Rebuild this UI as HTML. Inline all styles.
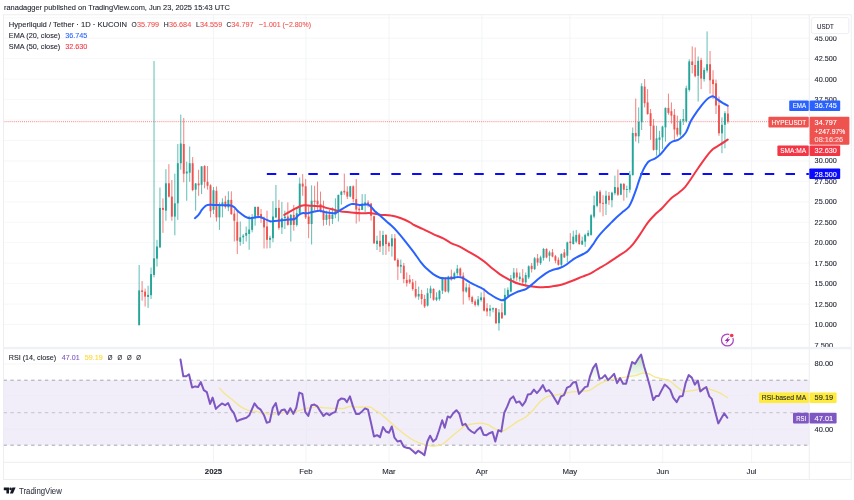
<!DOCTYPE html>
<html><head><meta charset="utf-8"><title>HYPEUSDT chart</title>
<style>html,body{margin:0;padding:0;background:#fff;}body{width:854px;height:500px;overflow:hidden;font-family:"Liberation Sans",sans-serif;}svg{display:block;}text{font-family:"Liberation Sans",sans-serif;}</style>
</head><body>
<svg width="854" height="500" viewBox="0 0 854 500">
<rect x="0" y="0" width="854" height="500" fill="#ffffff"/>
<defs><filter id="gx" x="-5%" y="-30%" width="110%" height="160%"><feOffset dx="0" dy="0"/></filter></defs>
<g stroke="#f4f5f8" stroke-width="0.8" fill="none">
<line x1="3.5" y1="17.8" x2="809.3" y2="17.8"/>
<line x1="3.5" y1="38.2" x2="809.3" y2="38.2"/>
<line x1="3.5" y1="58.7" x2="809.3" y2="58.7"/>
<line x1="3.5" y1="79.1" x2="809.3" y2="79.1"/>
<line x1="3.5" y1="99.6" x2="809.3" y2="99.6"/>
<line x1="3.5" y1="120.0" x2="809.3" y2="120.0"/>
<line x1="3.5" y1="140.5" x2="809.3" y2="140.5"/>
<line x1="3.5" y1="160.9" x2="809.3" y2="160.9"/>
<line x1="3.5" y1="181.4" x2="809.3" y2="181.4"/>
<line x1="3.5" y1="201.8" x2="809.3" y2="201.8"/>
<line x1="3.5" y1="222.3" x2="809.3" y2="222.3"/>
<line x1="3.5" y1="242.7" x2="809.3" y2="242.7"/>
<line x1="3.5" y1="263.1" x2="809.3" y2="263.1"/>
<line x1="3.5" y1="283.6" x2="809.3" y2="283.6"/>
<line x1="3.5" y1="304.1" x2="809.3" y2="304.1"/>
<line x1="3.5" y1="324.5" x2="809.3" y2="324.5"/>
<line x1="213.5" y1="14.8" x2="213.5" y2="462.3" stroke="#eff1f4"/>
<line x1="305.9" y1="14.8" x2="305.9" y2="462.3" stroke="#eff1f4"/>
<line x1="389.0" y1="14.8" x2="389.0" y2="462.3" stroke="#eff1f4"/>
<line x1="481.8" y1="14.8" x2="481.8" y2="462.3" stroke="#eff1f4"/>
<line x1="569.8" y1="14.8" x2="569.8" y2="462.3" stroke="#eff1f4"/>
<line x1="662.7" y1="14.8" x2="662.7" y2="462.3" stroke="#eff1f4"/>
<line x1="751.6" y1="14.8" x2="751.6" y2="462.3" stroke="#eff1f4"/>
<line x1="3.5" y1="363.9" x2="809.3" y2="363.9"/>
<line x1="3.5" y1="396.4" x2="809.3" y2="396.4"/>
<line x1="3.5" y1="428.9" x2="809.3" y2="428.9"/>
</g>
<rect x="3.5" y="380.2" width="805.8" height="65.0" fill="#7e57c2" fill-opacity="0.105"/>
<g stroke="#f4f1fb" stroke-width="0.8">
<line x1="3.5" y1="396.4" x2="809.3" y2="396.4"/>
<line x1="3.5" y1="428.9" x2="809.3" y2="428.9"/>
<line x1="213.5" y1="380.2" x2="213.5" y2="445.2"/>
<line x1="305.9" y1="380.2" x2="305.9" y2="445.2"/>
<line x1="389.0" y1="380.2" x2="389.0" y2="445.2"/>
<line x1="481.8" y1="380.2" x2="481.8" y2="445.2"/>
<line x1="569.8" y1="380.2" x2="569.8" y2="445.2"/>
<line x1="662.7" y1="380.2" x2="662.7" y2="445.2"/>
<line x1="751.6" y1="380.2" x2="751.6" y2="445.2"/>
</g>
<g stroke="#9598a1" stroke-width="0.85" stroke-dasharray="3.4 3.5">
<line x1="3.5" y1="380.2" x2="809.3" y2="380.2"/>
<line x1="3.5" y1="445.2" x2="809.3" y2="445.2"/>
<line x1="3.5" y1="412.7" x2="809.3" y2="412.7" stroke="#b9bbc4"/>
</g>
<line x1="3.5" y1="121.7" x2="809.3" y2="121.7" stroke="#ef5350" stroke-width="1" stroke-dasharray="1 1.05" stroke-opacity="0.7"/>
<g stroke-width="0.8" stroke-opacity="0.92"><line x1="139.15" y1="265.0" x2="139.15" y2="325.2" stroke="#26a69a"/><line x1="142.12" y1="281.1" x2="142.12" y2="300.7" stroke="#ef5350"/><line x1="145.10" y1="288.6" x2="145.10" y2="306.5" stroke="#ef5350"/><line x1="148.07" y1="285.7" x2="148.07" y2="307.9" stroke="#26a69a"/><line x1="151.04" y1="267.5" x2="151.04" y2="299.0" stroke="#26a69a"/><line x1="154.02" y1="61.0" x2="154.02" y2="277.4" stroke="#26a69a"/><line x1="156.99" y1="239.8" x2="156.99" y2="266.6" stroke="#26a69a"/><line x1="159.96" y1="187.5" x2="159.96" y2="248.0" stroke="#26a69a"/><line x1="162.94" y1="198.3" x2="162.94" y2="232.9" stroke="#ef5350"/><line x1="165.91" y1="169.2" x2="165.91" y2="220.7" stroke="#26a69a"/><line x1="168.88" y1="164.2" x2="168.88" y2="197.5" stroke="#ef5350"/><line x1="171.86" y1="180.0" x2="171.86" y2="220.7" stroke="#ef5350"/><line x1="174.83" y1="173.7" x2="174.83" y2="235.3" stroke="#26a69a"/><line x1="177.81" y1="144.0" x2="177.81" y2="219.9" stroke="#26a69a"/><line x1="180.78" y1="114.6" x2="180.78" y2="169.7" stroke="#26a69a"/><line x1="183.75" y1="118.0" x2="183.75" y2="182.3" stroke="#ef5350"/><line x1="186.73" y1="161.7" x2="186.73" y2="200.8" stroke="#26a69a"/><line x1="189.70" y1="146.5" x2="189.70" y2="181.8" stroke="#26a69a"/><line x1="192.67" y1="157.1" x2="192.67" y2="191.3" stroke="#ef5350"/><line x1="195.65" y1="183.0" x2="195.65" y2="210.7" stroke="#26a69a"/><line x1="198.62" y1="169.7" x2="198.62" y2="195.8" stroke="#ef5350"/><line x1="201.59" y1="166.0" x2="201.59" y2="194.1" stroke="#26a69a"/><line x1="204.57" y1="165.2" x2="204.57" y2="188.3" stroke="#ef5350"/><line x1="207.54" y1="166.0" x2="207.54" y2="189.6" stroke="#ef5350"/><line x1="210.51" y1="184.3" x2="210.51" y2="217.4" stroke="#ef5350"/><line x1="213.49" y1="187.0" x2="213.49" y2="214.0" stroke="#26a69a"/><line x1="216.46" y1="186.5" x2="216.46" y2="221.5" stroke="#ef5350"/><line x1="219.43" y1="202.4" x2="219.43" y2="229.9" stroke="#26a69a"/><line x1="222.41" y1="198.3" x2="222.41" y2="217.4" stroke="#26a69a"/><line x1="225.38" y1="195.8" x2="225.38" y2="208.6" stroke="#ef5350"/><line x1="228.36" y1="191.3" x2="228.36" y2="211.2" stroke="#26a69a"/><line x1="231.33" y1="191.3" x2="231.33" y2="214.9" stroke="#ef5350"/><line x1="234.30" y1="209.1" x2="234.30" y2="241.5" stroke="#ef5350"/><line x1="237.28" y1="210.7" x2="237.28" y2="254.0" stroke="#ef5350"/><line x1="240.25" y1="221.5" x2="240.25" y2="245.7" stroke="#26a69a"/><line x1="243.22" y1="234.0" x2="243.22" y2="244.0" stroke="#26a69a"/><line x1="246.20" y1="226.5" x2="246.20" y2="241.5" stroke="#26a69a"/><line x1="249.17" y1="215.7" x2="249.17" y2="249.8" stroke="#26a69a"/><line x1="252.14" y1="214.1" x2="252.14" y2="232.4" stroke="#26a69a"/><line x1="255.12" y1="206.6" x2="255.12" y2="225.7" stroke="#26a69a"/><line x1="258.09" y1="206.6" x2="258.09" y2="218.2" stroke="#ef5350"/><line x1="261.06" y1="209.1" x2="261.06" y2="222.9" stroke="#ef5350"/><line x1="264.04" y1="216.6" x2="264.04" y2="248.5" stroke="#ef5350"/><line x1="267.01" y1="210.7" x2="267.01" y2="248.5" stroke="#ef5350"/><line x1="269.98" y1="235.7" x2="269.98" y2="248.2" stroke="#26a69a"/><line x1="272.96" y1="201.2" x2="272.96" y2="242.3" stroke="#26a69a"/><line x1="275.93" y1="185.0" x2="275.93" y2="218.2" stroke="#26a69a"/><line x1="278.90" y1="199.9" x2="278.90" y2="229.8" stroke="#ef5350"/><line x1="281.88" y1="201.9" x2="281.88" y2="234.0" stroke="#26a69a"/><line x1="284.85" y1="210.7" x2="284.85" y2="229.0" stroke="#26a69a"/><line x1="287.83" y1="202.4" x2="287.83" y2="225.7" stroke="#ef5350"/><line x1="290.80" y1="214.0" x2="290.80" y2="241.5" stroke="#26a69a"/><line x1="293.77" y1="204.9" x2="293.77" y2="230.7" stroke="#ef5350"/><line x1="296.75" y1="207.4" x2="296.75" y2="226.5" stroke="#26a69a"/><line x1="299.72" y1="177.5" x2="299.72" y2="214.0" stroke="#26a69a"/><line x1="302.69" y1="174.1" x2="302.69" y2="195.8" stroke="#ef5350"/><line x1="305.67" y1="179.1" x2="305.67" y2="219.0" stroke="#ef5350"/><line x1="308.64" y1="206.6" x2="308.64" y2="238.2" stroke="#ef5350"/><line x1="311.61" y1="185.3" x2="311.61" y2="244.5" stroke="#26a69a"/><line x1="314.59" y1="185.8" x2="314.59" y2="210.7" stroke="#ef5350"/><line x1="317.56" y1="181.6" x2="317.56" y2="209.9" stroke="#ef5350"/><line x1="320.53" y1="191.6" x2="320.53" y2="212.4" stroke="#ef5350"/><line x1="323.51" y1="200.7" x2="323.51" y2="225.7" stroke="#ef5350"/><line x1="326.48" y1="210.7" x2="326.48" y2="224.9" stroke="#26a69a"/><line x1="329.45" y1="209.9" x2="329.45" y2="225.7" stroke="#ef5350"/><line x1="332.43" y1="207.4" x2="332.43" y2="224.0" stroke="#26a69a"/><line x1="335.40" y1="198.3" x2="335.40" y2="218.2" stroke="#26a69a"/><line x1="338.37" y1="194.6" x2="338.37" y2="221.5" stroke="#26a69a"/><line x1="341.35" y1="190.8" x2="341.35" y2="204.6" stroke="#26a69a"/><line x1="344.32" y1="173.6" x2="344.32" y2="194.9" stroke="#ef5350"/><line x1="347.30" y1="186.3" x2="347.30" y2="199.1" stroke="#ef5350"/><line x1="350.27" y1="185.8" x2="350.27" y2="197.4" stroke="#26a69a"/><line x1="353.24" y1="185.3" x2="353.24" y2="202.4" stroke="#ef5350"/><line x1="356.22" y1="179.1" x2="356.22" y2="223.5" stroke="#ef5350"/><line x1="359.19" y1="205.7" x2="359.19" y2="221.5" stroke="#ef5350"/><line x1="362.16" y1="194.1" x2="362.16" y2="210.2" stroke="#26a69a"/><line x1="365.14" y1="194.1" x2="365.14" y2="212.4" stroke="#26a69a"/><line x1="368.11" y1="200.3" x2="368.11" y2="207.4" stroke="#ef5350"/><line x1="371.08" y1="202.9" x2="371.08" y2="220.7" stroke="#ef5350"/><line x1="374.06" y1="215.7" x2="374.06" y2="244.0" stroke="#ef5350"/><line x1="377.03" y1="235.7" x2="377.03" y2="250.0" stroke="#26a69a"/><line x1="380.00" y1="230.7" x2="380.00" y2="252.0" stroke="#ef5350"/><line x1="382.98" y1="230.8" x2="382.98" y2="254.9" stroke="#26a69a"/><line x1="385.95" y1="234.1" x2="385.95" y2="254.9" stroke="#ef5350"/><line x1="388.92" y1="241.6" x2="388.92" y2="251.6" stroke="#ef5350"/><line x1="391.90" y1="234.1" x2="391.90" y2="256.6" stroke="#26a69a"/><line x1="394.87" y1="234.1" x2="394.87" y2="260.7" stroke="#ef5350"/><line x1="397.84" y1="258.3" x2="397.84" y2="279.9" stroke="#ef5350"/><line x1="400.82" y1="259.6" x2="400.82" y2="273.2" stroke="#26a69a"/><line x1="403.79" y1="262.9" x2="403.79" y2="283.2" stroke="#ef5350"/><line x1="406.76" y1="272.4" x2="406.76" y2="286.5" stroke="#ef5350"/><line x1="409.74" y1="274.9" x2="409.74" y2="284.0" stroke="#ef5350"/><line x1="412.71" y1="279.0" x2="412.71" y2="290.7" stroke="#ef5350"/><line x1="415.69" y1="280.7" x2="415.69" y2="298.2" stroke="#ef5350"/><line x1="418.66" y1="286.5" x2="418.66" y2="299.8" stroke="#26a69a"/><line x1="421.63" y1="289.8" x2="421.63" y2="304.5" stroke="#ef5350"/><line x1="424.61" y1="294.8" x2="424.61" y2="308.0" stroke="#ef5350"/><line x1="427.58" y1="288.2" x2="427.58" y2="306.5" stroke="#26a69a"/><line x1="430.55" y1="285.7" x2="430.55" y2="298.2" stroke="#26a69a"/><line x1="433.53" y1="288.2" x2="433.53" y2="300.7" stroke="#ef5350"/><line x1="436.50" y1="292.3" x2="436.50" y2="301.2" stroke="#26a69a"/><line x1="439.47" y1="289.8" x2="439.47" y2="300.7" stroke="#26a69a"/><line x1="442.45" y1="277.9" x2="442.45" y2="294.0" stroke="#26a69a"/><line x1="445.42" y1="277.4" x2="445.42" y2="292.3" stroke="#ef5350"/><line x1="448.39" y1="275.7" x2="448.39" y2="293.2" stroke="#26a69a"/><line x1="451.37" y1="269.6" x2="451.37" y2="280.7" stroke="#ef5350"/><line x1="454.34" y1="271.6" x2="454.34" y2="279.9" stroke="#26a69a"/><line x1="457.31" y1="264.9" x2="457.31" y2="275.7" stroke="#26a69a"/><line x1="460.29" y1="267.4" x2="460.29" y2="276.5" stroke="#ef5350"/><line x1="463.26" y1="272.4" x2="463.26" y2="304.5" stroke="#ef5350"/><line x1="466.24" y1="283.2" x2="466.24" y2="292.8" stroke="#26a69a"/><line x1="469.21" y1="284.0" x2="469.21" y2="300.5" stroke="#ef5350"/><line x1="472.18" y1="295.7" x2="472.18" y2="304.0" stroke="#ef5350"/><line x1="475.16" y1="299.4" x2="475.16" y2="306.5" stroke="#ef5350"/><line x1="478.13" y1="296.0" x2="478.13" y2="306.5" stroke="#26a69a"/><line x1="481.10" y1="292.4" x2="481.10" y2="301.6" stroke="#26a69a"/><line x1="484.08" y1="288.3" x2="484.08" y2="311.5" stroke="#ef5350"/><line x1="487.05" y1="303.2" x2="487.05" y2="316.2" stroke="#ef5350"/><line x1="490.02" y1="304.9" x2="490.02" y2="316.5" stroke="#26a69a"/><line x1="493.00" y1="307.4" x2="493.00" y2="312.4" stroke="#26a69a"/><line x1="495.97" y1="307.9" x2="495.97" y2="324.0" stroke="#ef5350"/><line x1="498.94" y1="309.0" x2="498.94" y2="330.7" stroke="#26a69a"/><line x1="501.92" y1="303.2" x2="501.92" y2="319.0" stroke="#ef5350"/><line x1="504.89" y1="288.3" x2="504.89" y2="315.7" stroke="#26a69a"/><line x1="507.86" y1="287.4" x2="507.86" y2="296.6" stroke="#26a69a"/><line x1="510.84" y1="275.0" x2="510.84" y2="292.4" stroke="#26a69a"/><line x1="513.81" y1="268.0" x2="513.81" y2="281.6" stroke="#26a69a"/><line x1="516.78" y1="268.3" x2="516.78" y2="280.8" stroke="#ef5350"/><line x1="519.76" y1="272.5" x2="519.76" y2="281.6" stroke="#26a69a"/><line x1="522.73" y1="269.1" x2="522.73" y2="284.1" stroke="#ef5350"/><line x1="525.71" y1="272.5" x2="525.71" y2="286.6" stroke="#26a69a"/><line x1="528.68" y1="265.3" x2="528.68" y2="279.1" stroke="#26a69a"/><line x1="531.65" y1="263.0" x2="531.65" y2="272.5" stroke="#ef5350"/><line x1="534.63" y1="257.0" x2="534.63" y2="270.0" stroke="#26a69a"/><line x1="537.60" y1="254.0" x2="537.60" y2="265.8" stroke="#ef5350"/><line x1="540.57" y1="255.7" x2="540.57" y2="264.9" stroke="#26a69a"/><line x1="543.55" y1="247.9" x2="543.55" y2="260.7" stroke="#26a69a"/><line x1="546.52" y1="248.2" x2="546.52" y2="258.2" stroke="#ef5350"/><line x1="549.49" y1="250.7" x2="549.49" y2="261.5" stroke="#26a69a"/><line x1="552.47" y1="249.0" x2="552.47" y2="257.4" stroke="#ef5350"/><line x1="555.44" y1="254.9" x2="555.44" y2="263.2" stroke="#ef5350"/><line x1="558.41" y1="257.4" x2="558.41" y2="265.7" stroke="#ef5350"/><line x1="561.39" y1="253.2" x2="561.39" y2="267.3" stroke="#26a69a"/><line x1="564.36" y1="249.0" x2="564.36" y2="257.9" stroke="#ef5350"/><line x1="567.33" y1="241.6" x2="567.33" y2="262.3" stroke="#26a69a"/><line x1="570.31" y1="233.2" x2="570.31" y2="249.9" stroke="#ef5350"/><line x1="573.28" y1="230.7" x2="573.28" y2="244.6" stroke="#26a69a"/><line x1="576.25" y1="229.9" x2="576.25" y2="243.2" stroke="#26a69a"/><line x1="579.23" y1="232.9" x2="579.23" y2="244.9" stroke="#ef5350"/><line x1="582.20" y1="236.6" x2="582.20" y2="244.9" stroke="#26a69a"/><line x1="585.17" y1="233.6" x2="585.17" y2="246.9" stroke="#26a69a"/><line x1="588.15" y1="230.2" x2="588.15" y2="236.6" stroke="#26a69a"/><line x1="591.12" y1="214.1" x2="591.12" y2="235.7" stroke="#26a69a"/><line x1="594.10" y1="195.7" x2="594.10" y2="218.3" stroke="#26a69a"/><line x1="597.07" y1="191.0" x2="597.07" y2="207.3" stroke="#26a69a"/><line x1="600.04" y1="190.0" x2="600.04" y2="212.3" stroke="#ef5350"/><line x1="603.02" y1="195.2" x2="603.02" y2="216.3" stroke="#ef5350"/><line x1="605.99" y1="190.7" x2="605.99" y2="215.0" stroke="#26a69a"/><line x1="608.96" y1="192.0" x2="608.96" y2="204.8" stroke="#ef5350"/><line x1="611.94" y1="191.7" x2="611.94" y2="207.3" stroke="#26a69a"/><line x1="614.91" y1="175.6" x2="614.91" y2="195.2" stroke="#26a69a"/><line x1="617.88" y1="169.5" x2="617.88" y2="196.0" stroke="#ef5350"/><line x1="620.86" y1="183.1" x2="620.86" y2="195.2" stroke="#26a69a"/><line x1="623.83" y1="183.1" x2="623.83" y2="200.7" stroke="#ef5350"/><line x1="626.80" y1="185.6" x2="626.80" y2="197.7" stroke="#26a69a"/><line x1="629.78" y1="171.0" x2="629.78" y2="192.7" stroke="#26a69a"/><line x1="632.75" y1="127.5" x2="632.75" y2="175.6" stroke="#26a69a"/><line x1="635.72" y1="98.6" x2="635.72" y2="141.6" stroke="#ef5350"/><line x1="638.70" y1="107.4" x2="638.70" y2="143.3" stroke="#26a69a"/><line x1="641.67" y1="83.3" x2="641.67" y2="130.0" stroke="#26a69a"/><line x1="644.64" y1="79.1" x2="644.64" y2="107.4" stroke="#ef5350"/><line x1="647.62" y1="89.1" x2="647.62" y2="114.8" stroke="#ef5350"/><line x1="650.59" y1="109.0" x2="650.59" y2="139.9" stroke="#ef5350"/><line x1="653.57" y1="119.0" x2="653.57" y2="150.7" stroke="#ef5350"/><line x1="656.54" y1="125.8" x2="656.54" y2="155.7" stroke="#26a69a"/><line x1="659.51" y1="130.8" x2="659.51" y2="154.9" stroke="#26a69a"/><line x1="662.49" y1="125.7" x2="662.49" y2="149.1" stroke="#26a69a"/><line x1="665.46" y1="107.4" x2="665.46" y2="141.6" stroke="#26a69a"/><line x1="668.43" y1="93.6" x2="668.43" y2="114.8" stroke="#ef5350"/><line x1="671.41" y1="102.4" x2="671.41" y2="123.6" stroke="#ef5350"/><line x1="674.38" y1="109.0" x2="674.38" y2="139.9" stroke="#ef5350"/><line x1="677.35" y1="115.7" x2="677.35" y2="136.6" stroke="#ef5350"/><line x1="680.33" y1="119.0" x2="680.33" y2="136.6" stroke="#26a69a"/><line x1="683.30" y1="109.0" x2="683.30" y2="125.0" stroke="#26a69a"/><line x1="686.27" y1="85.7" x2="686.27" y2="122.5" stroke="#26a69a"/><line x1="689.25" y1="59.3" x2="689.25" y2="91.6" stroke="#26a69a"/><line x1="692.22" y1="46.4" x2="692.22" y2="73.4" stroke="#ef5350"/><line x1="695.19" y1="47.4" x2="695.19" y2="77.4" stroke="#ef5350"/><line x1="698.17" y1="56.5" x2="698.17" y2="101.5" stroke="#26a69a"/><line x1="701.14" y1="57.8" x2="701.14" y2="89.1" stroke="#ef5350"/><line x1="704.12" y1="67.5" x2="704.12" y2="81.6" stroke="#26a69a"/><line x1="707.09" y1="31.4" x2="707.09" y2="72.6" stroke="#26a69a"/><line x1="710.06" y1="51.0" x2="710.06" y2="93.6" stroke="#ef5350"/><line x1="713.04" y1="70.2" x2="713.04" y2="99.0" stroke="#ef5350"/><line x1="716.01" y1="79.6" x2="716.01" y2="114.0" stroke="#ef5350"/><line x1="718.98" y1="96.6" x2="718.98" y2="135.8" stroke="#ef5350"/><line x1="721.96" y1="117.3" x2="721.96" y2="153.2" stroke="#26a69a"/><line x1="724.93" y1="111.2" x2="724.93" y2="148.3" stroke="#26a69a"/><line x1="727.90" y1="105.9" x2="727.90" y2="123.7" stroke="#ef5350"/></g>
<g><rect x="138.20" y="290.4" width="1.9" height="34.8" fill="#26a69a"/><rect x="141.17" y="290.4" width="1.9" height="1.5" fill="#ef5350"/><rect x="144.15" y="291.6" width="1.9" height="5.0" fill="#ef5350"/><rect x="147.12" y="294.9" width="1.9" height="2.0" fill="#26a69a"/><rect x="150.09" y="274.1" width="1.9" height="21.1" fill="#26a69a"/><rect x="153.07" y="258.3" width="1.9" height="16.7" fill="#26a69a"/><rect x="156.04" y="246.5" width="1.9" height="12.1" fill="#26a69a"/><rect x="159.01" y="207.9" width="1.9" height="39.4" fill="#26a69a"/><rect x="161.99" y="207.9" width="1.9" height="2.0" fill="#ef5350"/><rect x="164.96" y="183.3" width="1.9" height="27.4" fill="#26a69a"/><rect x="167.94" y="183.3" width="1.9" height="13.3" fill="#ef5350"/><rect x="170.91" y="196.6" width="1.9" height="20.0" fill="#ef5350"/><rect x="173.88" y="203.3" width="1.9" height="13.3" fill="#26a69a"/><rect x="176.86" y="163.2" width="1.9" height="40.1" fill="#26a69a"/><rect x="179.83" y="143.5" width="1.9" height="19.7" fill="#26a69a"/><rect x="182.80" y="144.0" width="1.9" height="29.7" fill="#ef5350"/><rect x="185.78" y="171.5" width="1.9" height="2.0" fill="#26a69a"/><rect x="188.75" y="163.2" width="1.9" height="9.5" fill="#26a69a"/><rect x="191.72" y="163.2" width="1.9" height="26.8" fill="#ef5350"/><rect x="194.70" y="183.5" width="1.9" height="6.1" fill="#26a69a"/><rect x="197.67" y="183.5" width="1.9" height="1.8" fill="#ef5350"/><rect x="200.64" y="166.4" width="1.9" height="18.4" fill="#26a69a"/><rect x="203.62" y="166.0" width="1.9" height="15.8" fill="#ef5350"/><rect x="206.59" y="181.8" width="1.9" height="4.0" fill="#ef5350"/><rect x="209.56" y="185.3" width="1.9" height="25.9" fill="#ef5350"/><rect x="212.54" y="190.3" width="1.9" height="19.6" fill="#26a69a"/><rect x="215.51" y="190.8" width="1.9" height="26.6" fill="#ef5350"/><rect x="218.48" y="205.7" width="1.9" height="11.7" fill="#26a69a"/><rect x="221.46" y="202.4" width="1.9" height="3.3" fill="#26a69a"/><rect x="224.43" y="201.6" width="1.9" height="5.3" fill="#ef5350"/><rect x="227.41" y="199.9" width="1.9" height="7.5" fill="#26a69a"/><rect x="230.38" y="199.9" width="1.9" height="14.2" fill="#ef5350"/><rect x="233.35" y="213.6" width="1.9" height="7.1" fill="#ef5350"/><rect x="236.33" y="221.9" width="1.9" height="18.8" fill="#ef5350"/><rect x="239.30" y="237.3" width="1.9" height="4.5" fill="#26a69a"/><rect x="242.27" y="235.7" width="1.9" height="1.6" fill="#26a69a"/><rect x="245.25" y="232.9" width="1.9" height="2.8" fill="#26a69a"/><rect x="248.22" y="229.5" width="1.9" height="4.5" fill="#26a69a"/><rect x="251.19" y="218.2" width="1.9" height="11.7" fill="#26a69a"/><rect x="254.17" y="206.9" width="1.9" height="11.3" fill="#26a69a"/><rect x="257.14" y="206.9" width="1.9" height="8.8" fill="#ef5350"/><rect x="260.11" y="214.1" width="1.9" height="4.1" fill="#ef5350"/><rect x="263.09" y="217.9" width="1.9" height="9.5" fill="#ef5350"/><rect x="266.06" y="226.5" width="1.9" height="13.3" fill="#ef5350"/><rect x="269.03" y="237.8" width="1.9" height="2.0" fill="#26a69a"/><rect x="272.01" y="216.5" width="1.9" height="21.7" fill="#26a69a"/><rect x="274.98" y="207.9" width="1.9" height="9.5" fill="#26a69a"/><rect x="277.95" y="207.9" width="1.9" height="20.0" fill="#ef5350"/><rect x="280.93" y="218.2" width="1.9" height="9.2" fill="#26a69a"/><rect x="283.90" y="216.5" width="1.9" height="1.7" fill="#26a69a"/><rect x="286.88" y="216.5" width="1.9" height="8.4" fill="#ef5350"/><rect x="289.85" y="214.9" width="1.9" height="10.0" fill="#26a69a"/><rect x="292.82" y="214.9" width="1.9" height="10.0" fill="#ef5350"/><rect x="295.80" y="213.2" width="1.9" height="11.7" fill="#26a69a"/><rect x="298.77" y="183.6" width="1.9" height="29.6" fill="#26a69a"/><rect x="301.74" y="183.6" width="1.9" height="3.0" fill="#ef5350"/><rect x="304.72" y="186.3" width="1.9" height="31.1" fill="#ef5350"/><rect x="307.69" y="216.5" width="1.9" height="7.5" fill="#ef5350"/><rect x="310.66" y="200.7" width="1.9" height="23.3" fill="#26a69a"/><rect x="313.64" y="200.7" width="1.9" height="1.2" fill="#ef5350"/><rect x="316.61" y="200.7" width="1.9" height="3.4" fill="#ef5350"/><rect x="319.58" y="204.1" width="1.9" height="6.6" fill="#ef5350"/><rect x="322.56" y="210.7" width="1.9" height="9.2" fill="#ef5350"/><rect x="325.53" y="214.6" width="1.9" height="5.3" fill="#26a69a"/><rect x="328.50" y="214.6" width="1.9" height="4.4" fill="#ef5350"/><rect x="331.48" y="214.6" width="1.9" height="4.4" fill="#26a69a"/><rect x="334.45" y="210.7" width="1.9" height="3.9" fill="#26a69a"/><rect x="337.42" y="194.9" width="1.9" height="16.7" fill="#26a69a"/><rect x="340.40" y="191.6" width="1.9" height="3.3" fill="#26a69a"/><rect x="343.37" y="190.8" width="1.9" height="1.6" fill="#ef5350"/><rect x="346.35" y="191.6" width="1.9" height="5.0" fill="#ef5350"/><rect x="349.32" y="186.3" width="1.9" height="10.3" fill="#26a69a"/><rect x="352.29" y="186.3" width="1.9" height="12.8" fill="#ef5350"/><rect x="355.27" y="199.1" width="1.9" height="10.5" fill="#ef5350"/><rect x="358.24" y="208.6" width="1.9" height="1.6" fill="#ef5350"/><rect x="361.21" y="203.6" width="1.9" height="6.3" fill="#26a69a"/><rect x="364.19" y="202.4" width="1.9" height="2.5" fill="#26a69a"/><rect x="367.16" y="202.4" width="1.9" height="1.7" fill="#ef5350"/><rect x="370.13" y="203.6" width="1.9" height="12.1" fill="#ef5350"/><rect x="373.11" y="216.2" width="1.9" height="27.0" fill="#ef5350"/><rect x="376.08" y="240.7" width="1.9" height="3.3" fill="#26a69a"/><rect x="379.05" y="240.8" width="1.9" height="5.8" fill="#ef5350"/><rect x="382.03" y="235.0" width="1.9" height="10.8" fill="#26a69a"/><rect x="385.00" y="235.0" width="1.9" height="9.1" fill="#ef5350"/><rect x="387.97" y="243.0" width="1.9" height="3.3" fill="#ef5350"/><rect x="390.95" y="238.3" width="1.9" height="8.0" fill="#26a69a"/><rect x="393.92" y="238.3" width="1.9" height="22.0" fill="#ef5350"/><rect x="396.89" y="259.9" width="1.9" height="6.7" fill="#ef5350"/><rect x="399.87" y="264.9" width="1.9" height="1.7" fill="#26a69a"/><rect x="402.84" y="265.7" width="1.9" height="13.3" fill="#ef5350"/><rect x="405.81" y="279.9" width="1.9" height="3.3" fill="#ef5350"/><rect x="408.79" y="279.5" width="1.9" height="2.9" fill="#ef5350"/><rect x="411.76" y="282.4" width="1.9" height="6.6" fill="#ef5350"/><rect x="414.74" y="289.0" width="1.9" height="7.5" fill="#ef5350"/><rect x="417.71" y="294.0" width="1.9" height="2.5" fill="#26a69a"/><rect x="420.68" y="294.0" width="1.9" height="5.0" fill="#ef5350"/><rect x="423.66" y="299.0" width="1.9" height="7.5" fill="#ef5350"/><rect x="426.63" y="293.2" width="1.9" height="12.4" fill="#26a69a"/><rect x="429.60" y="288.5" width="1.9" height="4.7" fill="#26a69a"/><rect x="432.58" y="289.0" width="1.9" height="10.8" fill="#ef5350"/><rect x="435.55" y="297.3" width="1.9" height="2.5" fill="#26a69a"/><rect x="438.52" y="290.7" width="1.9" height="8.3" fill="#26a69a"/><rect x="441.50" y="278.2" width="1.9" height="12.5" fill="#26a69a"/><rect x="444.47" y="278.2" width="1.9" height="13.3" fill="#ef5350"/><rect x="447.44" y="276.5" width="1.9" height="15.0" fill="#26a69a"/><rect x="450.42" y="276.2" width="1.9" height="3.3" fill="#ef5350"/><rect x="453.39" y="273.2" width="1.9" height="5.8" fill="#26a69a"/><rect x="456.36" y="268.6" width="1.9" height="4.6" fill="#26a69a"/><rect x="459.34" y="268.6" width="1.9" height="7.1" fill="#ef5350"/><rect x="462.31" y="275.7" width="1.9" height="15.8" fill="#ef5350"/><rect x="465.29" y="287.4" width="1.9" height="4.1" fill="#26a69a"/><rect x="468.26" y="287.4" width="1.9" height="9.9" fill="#ef5350"/><rect x="471.23" y="297.1" width="1.9" height="4.9" fill="#ef5350"/><rect x="474.21" y="301.4" width="1.9" height="3.5" fill="#ef5350"/><rect x="477.18" y="299.4" width="1.9" height="5.5" fill="#26a69a"/><rect x="480.15" y="297.4" width="1.9" height="2.6" fill="#26a69a"/><rect x="483.13" y="297.4" width="1.9" height="13.3" fill="#ef5350"/><rect x="486.10" y="308.2" width="1.9" height="3.3" fill="#ef5350"/><rect x="489.07" y="308.5" width="1.9" height="2.2" fill="#26a69a"/><rect x="492.05" y="308.2" width="1.9" height="1.3" fill="#26a69a"/><rect x="495.02" y="308.2" width="1.9" height="15.0" fill="#ef5350"/><rect x="497.99" y="312.4" width="1.9" height="10.8" fill="#26a69a"/><rect x="500.97" y="312.4" width="1.9" height="5.8" fill="#ef5350"/><rect x="503.94" y="294.9" width="1.9" height="20.0" fill="#26a69a"/><rect x="506.91" y="289.9" width="1.9" height="5.8" fill="#26a69a"/><rect x="509.89" y="278.3" width="1.9" height="13.3" fill="#26a69a"/><rect x="512.86" y="272.5" width="1.9" height="5.8" fill="#26a69a"/><rect x="515.83" y="272.5" width="1.9" height="4.9" fill="#ef5350"/><rect x="518.81" y="276.6" width="1.9" height="2.5" fill="#26a69a"/><rect x="521.78" y="278.3" width="1.9" height="4.1" fill="#ef5350"/><rect x="524.75" y="275.0" width="1.9" height="7.4" fill="#26a69a"/><rect x="527.73" y="266.3" width="1.9" height="11.1" fill="#26a69a"/><rect x="530.70" y="265.8" width="1.9" height="3.3" fill="#ef5350"/><rect x="533.68" y="258.3" width="1.9" height="10.8" fill="#26a69a"/><rect x="536.65" y="258.3" width="1.9" height="4.2" fill="#ef5350"/><rect x="539.62" y="257.4" width="1.9" height="5.8" fill="#26a69a"/><rect x="542.60" y="249.0" width="1.9" height="8.9" fill="#26a69a"/><rect x="545.57" y="249.0" width="1.9" height="8.4" fill="#ef5350"/><rect x="548.54" y="252.4" width="1.9" height="3.3" fill="#26a69a"/><rect x="551.52" y="252.4" width="1.9" height="4.1" fill="#ef5350"/><rect x="554.49" y="256.2" width="1.9" height="4.5" fill="#ef5350"/><rect x="557.46" y="259.8" width="1.9" height="5.0" fill="#ef5350"/><rect x="560.44" y="254.0" width="1.9" height="10.8" fill="#26a69a"/><rect x="563.41" y="252.4" width="1.9" height="5.0" fill="#ef5350"/><rect x="566.38" y="242.4" width="1.9" height="13.3" fill="#26a69a"/><rect x="569.36" y="241.5" width="1.9" height="1.5" fill="#ef5350"/><rect x="572.33" y="236.6" width="1.9" height="7.4" fill="#26a69a"/><rect x="575.30" y="234.9" width="1.9" height="6.7" fill="#26a69a"/><rect x="578.28" y="234.6" width="1.9" height="9.4" fill="#ef5350"/><rect x="581.25" y="240.7" width="1.9" height="3.9" fill="#26a69a"/><rect x="584.22" y="234.9" width="1.9" height="6.7" fill="#26a69a"/><rect x="587.20" y="232.9" width="1.9" height="2.8" fill="#26a69a"/><rect x="590.17" y="215.3" width="1.9" height="19.6" fill="#26a69a"/><rect x="593.15" y="205.3" width="1.9" height="11.3" fill="#26a69a"/><rect x="596.12" y="191.7" width="1.9" height="14.1" fill="#26a69a"/><rect x="599.09" y="191.7" width="1.9" height="11.6" fill="#ef5350"/><rect x="602.07" y="202.8" width="1.9" height="1.0" fill="#ef5350"/><rect x="605.04" y="195.7" width="1.9" height="8.1" fill="#26a69a"/><rect x="608.01" y="195.7" width="1.9" height="4.5" fill="#ef5350"/><rect x="610.99" y="192.7" width="1.9" height="7.5" fill="#26a69a"/><rect x="613.96" y="187.0" width="1.9" height="6.2" fill="#26a69a"/><rect x="616.93" y="187.4" width="1.9" height="7.3" fill="#ef5350"/><rect x="619.91" y="183.9" width="1.9" height="10.8" fill="#26a69a"/><rect x="622.88" y="183.9" width="1.9" height="5.8" fill="#ef5350"/><rect x="625.85" y="189.0" width="1.9" height="1.0" fill="#26a69a"/><rect x="628.83" y="174.6" width="1.9" height="15.1" fill="#26a69a"/><rect x="631.80" y="133.0" width="1.9" height="42.1" fill="#26a69a"/><rect x="634.77" y="133.0" width="1.9" height="3.3" fill="#ef5350"/><rect x="637.75" y="122.0" width="1.9" height="14.3" fill="#26a69a"/><rect x="640.72" y="86.2" width="1.9" height="36.1" fill="#26a69a"/><rect x="643.69" y="86.6" width="1.9" height="16.6" fill="#ef5350"/><rect x="646.67" y="102.4" width="1.9" height="11.6" fill="#ef5350"/><rect x="649.64" y="113.2" width="1.9" height="12.8" fill="#ef5350"/><rect x="652.62" y="125.5" width="1.9" height="24.4" fill="#ef5350"/><rect x="655.59" y="138.3" width="1.9" height="11.6" fill="#26a69a"/><rect x="658.56" y="137.4" width="1.9" height="2.5" fill="#26a69a"/><rect x="661.54" y="126.6" width="1.9" height="10.8" fill="#26a69a"/><rect x="664.51" y="107.9" width="1.9" height="19.5" fill="#26a69a"/><rect x="667.48" y="107.9" width="1.9" height="5.0" fill="#ef5350"/><rect x="670.46" y="111.2" width="1.9" height="4.5" fill="#ef5350"/><rect x="673.43" y="114.8" width="1.9" height="14.7" fill="#ef5350"/><rect x="676.40" y="127.8" width="1.9" height="6.8" fill="#ef5350"/><rect x="679.38" y="120.8" width="1.9" height="13.8" fill="#26a69a"/><rect x="682.35" y="119.0" width="1.9" height="1.8" fill="#26a69a"/><rect x="685.32" y="88.2" width="1.9" height="33.1" fill="#26a69a"/><rect x="688.30" y="61.4" width="1.9" height="28.5" fill="#26a69a"/><rect x="691.27" y="61.4" width="1.9" height="3.6" fill="#ef5350"/><rect x="694.24" y="65.0" width="1.9" height="11.2" fill="#ef5350"/><rect x="697.22" y="60.8" width="1.9" height="15.0" fill="#26a69a"/><rect x="700.19" y="60.1" width="1.9" height="18.4" fill="#ef5350"/><rect x="703.16" y="70.0" width="1.9" height="9.1" fill="#26a69a"/><rect x="706.14" y="64.2" width="1.9" height="6.3" fill="#26a69a"/><rect x="709.11" y="64.2" width="1.9" height="16.1" fill="#ef5350"/><rect x="712.09" y="79.6" width="1.9" height="4.5" fill="#ef5350"/><rect x="715.06" y="83.3" width="1.9" height="22.2" fill="#ef5350"/><rect x="718.03" y="105.2" width="1.9" height="28.1" fill="#ef5350"/><rect x="721.01" y="124.8" width="1.9" height="8.5" fill="#26a69a"/><rect x="723.98" y="113.2" width="1.9" height="11.6" fill="#26a69a"/><rect x="726.95" y="113.5" width="1.9" height="8.3" fill="#ef5350"/></g>
<line x1="266.85" y1="173.9" x2="809.3" y2="173.9" stroke="#0a0aff" stroke-width="2" stroke-dasharray="9.4 11.35"/>
<path d="M284.3,214.9 C285.7,214.1 290.1,211.4 292.9,209.9 C295.8,208.4 299.2,206.5 301.3,205.7 C303.3,205.0 303.7,205.2 305.4,205.2 C307.1,205.2 308.6,205.6 311.2,205.7 C313.9,205.9 318.7,205.9 321.2,206.2 C323.7,206.6 324.0,207.3 326.2,207.9 C328.4,208.5 332.0,209.3 334.5,209.9 C337.0,210.5 338.4,211.1 341.2,211.6 C343.9,212.0 347.8,212.1 351.1,212.4 C354.5,212.7 357.8,213.1 361.1,213.2 C364.4,213.4 367.8,212.9 371.1,213.2 C374.4,213.5 377.7,214.5 381.1,214.9 C384.4,215.2 387.7,214.8 391.0,215.4 C394.4,215.9 397.9,217.0 401.0,218.2 C404.2,219.4 407.8,221.2 410.0,222.4 C412.2,223.5 411.9,223.9 414.1,225.0 C416.3,226.1 420.0,227.6 423.2,229.2 C426.4,230.7 429.9,232.6 433.2,234.1 C436.5,235.7 440.1,236.8 443.2,238.3 C446.2,239.8 448.7,241.9 451.5,243.3 C454.3,244.7 456.8,245.1 459.8,246.6 C462.9,248.1 466.5,250.5 469.8,252.4 C473.1,254.4 477.0,256.5 479.8,258.3 C482.5,260.1 484.2,261.4 486.4,263.2 C488.6,265.0 490.9,267.3 493.1,269.1 C495.3,270.9 497.5,272.5 499.7,274.1 C501.9,275.6 504.2,277.0 506.4,278.2 C508.6,279.5 511.1,280.6 513.0,281.5 C515.0,282.4 515.9,282.9 518.0,283.5 C520.2,284.2 523.4,284.9 525.9,285.4 C528.3,285.9 530.3,286.3 532.5,286.6 C534.7,286.9 536.9,287.2 539.2,287.3 C541.4,287.3 543.6,287.3 545.8,287.1 C548.0,286.9 550.2,286.6 552.5,286.3 C554.7,286.0 556.9,285.8 559.1,285.3 C561.3,284.8 563.6,284.0 565.8,283.3 C568.0,282.5 569.6,281.9 572.4,280.8 C575.2,279.7 579.3,277.9 582.4,276.6 C585.4,275.4 587.9,274.7 590.7,273.3 C593.5,271.9 596.4,269.8 599.0,268.3 C601.6,266.8 603.6,265.8 606.5,264.0 C609.4,262.2 613.1,259.6 616.4,257.4 C619.8,255.1 623.6,252.9 626.4,250.7 C629.2,248.5 630.9,246.7 633.1,244.1 C635.3,241.4 637.2,238.5 639.7,234.9 C642.2,231.3 645.3,226.0 648.0,222.4 C650.8,218.8 654.0,215.6 656.3,213.3 C658.7,210.9 659.5,210.9 662.0,208.3 C664.5,205.7 668.8,200.5 671.5,198.0 C674.2,195.4 675.9,194.9 678.1,193.2 C680.3,191.4 682.6,189.8 684.8,187.3 C687.0,184.8 689.2,181.4 691.4,178.2 C693.6,175.0 695.6,171.8 698.1,168.2 C700.6,164.6 703.9,159.8 706.4,156.6 C708.9,153.4 710.8,151.0 713.0,149.1 C715.3,147.1 717.8,146.2 719.7,144.9 C721.6,143.7 723.4,142.5 724.7,141.6 C726.0,140.7 727.2,139.9 727.7,139.6" fill="none" stroke="#f23645" stroke-width="2.0" stroke-linejoin="round" stroke-linecap="round"/>
<path d="M194.9,218.2 C195.5,217.7 197.3,216.3 198.5,214.9 C199.7,213.5 200.7,211.3 201.8,209.9 C202.9,208.5 204.2,207.1 205.2,206.2 C206.1,205.4 206.3,205.1 207.7,204.9 C209.0,204.7 211.1,204.9 213.5,204.9 C215.8,205.0 219.3,205.2 221.8,205.3 C224.3,205.3 226.5,205.0 228.4,205.3 C230.4,205.5 231.8,205.5 233.4,206.6 C235.1,207.6 236.5,209.9 238.4,211.6 C240.4,213.2 243.1,215.4 245.1,216.6 C247.0,217.7 248.4,218.1 250.1,218.2 C251.7,218.4 253.4,217.6 255.0,217.4 C256.7,217.2 258.4,216.8 260.0,217.1 C261.7,217.3 263.4,218.4 265.0,219.1 C266.7,219.7 268.7,220.9 270.0,221.2 C271.3,221.6 270.6,221.4 273.0,221.2 C275.4,221.0 281.0,220.2 284.6,219.9 C288.2,219.5 292.4,219.7 294.6,219.0 C296.8,218.3 296.7,216.7 297.9,215.7 C299.2,214.7 300.4,213.6 302.1,213.2 C303.7,212.8 305.8,213.5 307.9,213.2 C310.0,212.9 312.6,212.0 314.6,211.6 C316.5,211.1 317.6,210.6 319.5,210.7 C321.5,210.9 323.7,212.0 326.2,212.4 C328.7,212.8 332.3,213.5 334.5,213.2 C336.7,212.9 337.6,211.8 339.5,210.7 C341.4,209.6 344.2,207.7 346.2,206.6 C348.1,205.5 349.8,204.5 351.1,204.1 C352.5,203.7 353.1,203.9 354.5,204.1 C355.9,204.2 357.5,204.8 359.5,204.9 C361.4,205.0 364.4,204.5 366.1,204.6 C367.8,204.6 368.0,204.2 369.4,205.2 C370.8,206.3 372.5,208.8 374.4,210.7 C376.4,212.6 378.9,214.6 381.1,216.5 C383.3,218.5 386.1,221.0 387.7,222.4 C389.3,223.8 389.3,223.6 390.8,225.0 C392.3,226.4 394.3,228.2 396.6,230.8 C399.0,233.5 402.2,237.3 404.9,240.8 C407.7,244.3 410.5,247.9 413.3,251.6 C416.0,255.3 419.4,260.4 421.6,263.2 C423.8,266.1 424.6,266.8 426.6,268.6 C428.5,270.4 431.0,272.5 433.2,274.1 C435.4,275.6 437.6,277.0 439.9,277.7 C442.1,278.4 444.3,278.2 446.5,278.2 C448.7,278.2 451.2,278.1 453.2,277.9 C455.1,277.7 456.5,276.8 458.2,276.9 C459.8,276.9 461.2,277.3 463.1,278.2 C465.1,279.1 467.6,281.1 469.8,282.4 C472.0,283.6 474.2,284.6 476.4,285.7 C478.7,286.8 480.9,287.6 483.1,289.0 C485.3,290.4 487.5,292.5 489.7,294.0 C492.0,295.5 494.5,297.1 496.4,298.2 C498.3,299.2 500.0,299.9 501.4,300.2 C502.8,300.4 503.3,300.2 504.7,299.5 C506.1,298.7 507.8,296.9 509.7,295.7 C511.6,294.5 514.5,293.2 516.3,292.3 C518.2,291.5 519.3,291.3 520.9,290.7 C522.5,290.2 523.9,290.2 525.9,289.1 C527.8,288.0 530.3,285.9 532.5,284.1 C534.7,282.3 536.9,280.1 539.2,278.3 C541.4,276.5 543.6,274.7 545.8,273.3 C548.0,271.9 550.2,270.8 552.5,270.0 C554.7,269.1 556.9,269.1 559.1,268.3 C561.3,267.5 563.6,266.4 565.8,265.0 C568.0,263.6 570.6,261.3 572.4,260.0 C574.2,258.7 574.7,258.3 576.5,257.4 C578.3,256.4 581.2,255.1 583.2,254.0 C585.1,252.9 586.5,252.4 588.2,250.7 C589.8,249.0 591.5,246.4 593.2,244.1 C594.8,241.7 596.2,239.1 598.2,236.6 C600.1,234.1 602.6,231.4 604.8,229.1 C607.0,226.7 609.5,224.4 611.5,222.4 C613.4,220.5 614.5,219.2 616.4,217.4 C618.4,215.6 621.0,213.4 623.1,211.6 C625.2,209.8 627.4,208.6 628.9,206.6 C630.4,204.7 631.0,203.1 632.2,200.0 C633.5,196.9 635.3,191.8 636.6,188.2 C637.8,184.5 638.8,181.2 639.9,178.2 C641.0,175.1 642.1,172.2 643.2,169.9 C644.3,167.5 645.4,165.6 646.5,164.1 C647.6,162.5 648.5,161.6 649.9,160.7 C651.2,159.8 653.2,159.5 654.8,158.6 C656.5,157.6 658.2,156.5 659.8,154.9 C661.5,153.3 663.2,151.0 664.8,149.1 C666.5,147.1 668.4,144.6 669.8,143.3 C671.2,142.0 671.8,141.8 673.1,141.3 C674.5,140.7 676.6,140.7 678.1,139.9 C679.7,139.2 680.9,138.0 682.3,136.6 C683.7,135.2 685.1,134.1 686.4,131.6 C687.8,129.1 689.0,124.7 690.6,121.5 C692.3,118.3 694.6,115.0 696.4,112.4 C698.2,109.7 699.8,107.8 701.4,105.7 C703.1,103.6 704.9,101.4 706.4,99.9 C707.9,98.4 709.3,97.4 710.6,96.9 C711.8,96.3 712.7,96.1 713.9,96.6 C715.1,97.1 716.5,98.8 718.1,99.9 C719.6,101.0 721.4,102.2 723.0,103.2 C724.7,104.2 726.9,105.3 727.7,105.7" fill="none" stroke="#2962ff" stroke-width="2.0" stroke-linejoin="round" stroke-linecap="round"/>
<defs><linearGradient id="ob" gradientUnits="userSpaceOnUse" x1="0" y1="346" x2="0" y2="380.2"><stop offset="0" stop-color="#4caf50" stop-opacity="0.5"/><stop offset="1" stop-color="#4caf50" stop-opacity="0.0"/></linearGradient><linearGradient id="os" gradientUnits="userSpaceOnUse" x1="0" y1="445.2" x2="0" y2="470"><stop offset="0" stop-color="#ff5252" stop-opacity="0.0"/><stop offset="1" stop-color="#ff5252" stop-opacity="0.45"/></linearGradient><clipPath id="cob"><rect x="580" y="349.3" width="229.29999999999995" height="30.9"/></clipPath><clipPath id="cos"><rect x="0" y="445.2" width="809.3" height="17.1"/></clipPath></defs>
<path d="M180.5,380.2 L180.5,359.5 L183.3,376.3 L186.3,376.3 L189.0,374.3 L192.1,387.6 L195.1,386.4 L198.1,386.9 L200.8,382.1 L203.8,390.1 L206.8,392.1 L210.1,403.9 L212.6,397.6 L215.9,408.9 L218.9,405.9 L221.9,403.4 L225.1,405.2 L228.1,403.1 L231.2,409.7 L233.9,413.2 L236.9,421.4 L240.2,419.7 L243.2,418.7 L246.4,417.7 L249.4,415.2 L254.5,403.4 L257.7,407.7 L260.7,409.7 L264.0,415.2 L266.7,422.7 L269.7,421.9 L272.8,407.7 L275.8,403.1 L278.5,414.7 L281.5,410.2 L284.5,409.4 L287.3,413.9 L290.3,408.2 L293.3,413.9 L296.3,407.7 L299.3,392.6 L302.3,393.9 L305.3,412.2 L308.3,415.9 L311.4,405.2 L314.4,404.6 L317.4,406.4 L320.4,411.4 L323.4,415.9 L326.4,413.2 L329.4,415.2 L332.4,413.2 L335.4,411.9 L338.4,400.6 L341.4,398.4 L344.4,398.9 L346.9,402.1 L349.9,396.4 L353.0,406.4 L356.0,413.9 L359.0,413.9 L362.0,411.4 L365.0,408.4 L368.0,409.7 L371.0,422.7 L374.0,436.5 L377.0,435.2 L380.0,437.2 L383.0,427.0 L386.0,431.5 L389.0,432.7 L391.8,426.5 L394.5,437.7 L397.5,441.5 L400.6,440.7 L403.6,446.5 L406.6,447.8 L409.6,448.3 L412.6,450.8 L415.6,453.5 L418.3,450.8 L421.4,452.8 L424.4,455.3 L427.4,441.5 L430.1,435.7 L433.1,441.5 L436.1,439.0 L439.1,430.2 L442.2,420.2 L444.7,427.7 L447.7,416.4 L450.2,417.7 L453.2,413.2 L456.4,410.2 L459.4,413.9 L462.5,425.2 L465.5,423.9 L468.5,429.0 L471.5,431.5 L474.5,433.2 L477.5,429.7 L480.5,427.2 L483.5,434.7 L486.5,435.2 L489.5,433.2 L492.5,432.0 L495.3,441.5 L498.3,430.2 L501.3,431.5 L504.3,412.7 L507.3,406.4 L510.3,398.9 L513.3,396.4 L516.3,402.6 L519.3,401.4 L522.4,405.7 L525.4,401.4 L527.9,394.4 L530.9,393.9 L533.9,389.6 L536.9,393.1 L539.9,389.6 L542.9,385.1 L545.9,391.4 L548.9,390.1 L551.9,393.9 L554.9,398.9 L557.9,403.9 L561.0,396.4 L564.0,395.1 L567.0,387.6 L570.0,386.4 L573.0,382.6 L576.0,382.1 L579.0,393.9 L582.0,390.6 L585.0,387.1 L587.5,386.4 L590.0,376.3 L593.0,368.1 L596.0,363.8 L599.5,378.8 L602.0,378.1 L605.0,375.1 L608.0,380.1 L611.1,377.1 L614.1,373.8 L617.1,383.1 L620.1,378.1 L623.1,383.8 L626.1,383.8 L629.1,372.6 L632.1,362.0 L635.1,363.8 L638.1,358.8 L641.1,354.5 L644.1,366.3 L647.1,376.3 L650.2,387.6 L653.2,400.1 L656.2,395.9 L658.7,395.9 L661.7,390.1 L664.7,384.6 L667.7,387.1 L670.2,389.6 L673.2,397.6 L676.7,402.1 L679.7,396.4 L682.7,395.9 L685.7,382.6 L688.7,375.1 L691.8,377.6 L694.8,384.6 L697.8,380.6 L700.3,391.4 L703.3,388.9 L706.3,387.1 L709.3,396.4 L711.8,398.9 L715.3,412.2 L718.3,423.4 L721.3,418.2 L724.3,413.4 L727.3,417.7 L727.3,380.2 Z" fill="url(#ob)" clip-path="url(#cob)"/>
<path d="M180.5,445.2 L180.5,359.5 L183.3,376.3 L186.3,376.3 L189.0,374.3 L192.1,387.6 L195.1,386.4 L198.1,386.9 L200.8,382.1 L203.8,390.1 L206.8,392.1 L210.1,403.9 L212.6,397.6 L215.9,408.9 L218.9,405.9 L221.9,403.4 L225.1,405.2 L228.1,403.1 L231.2,409.7 L233.9,413.2 L236.9,421.4 L240.2,419.7 L243.2,418.7 L246.4,417.7 L249.4,415.2 L254.5,403.4 L257.7,407.7 L260.7,409.7 L264.0,415.2 L266.7,422.7 L269.7,421.9 L272.8,407.7 L275.8,403.1 L278.5,414.7 L281.5,410.2 L284.5,409.4 L287.3,413.9 L290.3,408.2 L293.3,413.9 L296.3,407.7 L299.3,392.6 L302.3,393.9 L305.3,412.2 L308.3,415.9 L311.4,405.2 L314.4,404.6 L317.4,406.4 L320.4,411.4 L323.4,415.9 L326.4,413.2 L329.4,415.2 L332.4,413.2 L335.4,411.9 L338.4,400.6 L341.4,398.4 L344.4,398.9 L346.9,402.1 L349.9,396.4 L353.0,406.4 L356.0,413.9 L359.0,413.9 L362.0,411.4 L365.0,408.4 L368.0,409.7 L371.0,422.7 L374.0,436.5 L377.0,435.2 L380.0,437.2 L383.0,427.0 L386.0,431.5 L389.0,432.7 L391.8,426.5 L394.5,437.7 L397.5,441.5 L400.6,440.7 L403.6,446.5 L406.6,447.8 L409.6,448.3 L412.6,450.8 L415.6,453.5 L418.3,450.8 L421.4,452.8 L424.4,455.3 L427.4,441.5 L430.1,435.7 L433.1,441.5 L436.1,439.0 L439.1,430.2 L442.2,420.2 L444.7,427.7 L447.7,416.4 L450.2,417.7 L453.2,413.2 L456.4,410.2 L459.4,413.9 L462.5,425.2 L465.5,423.9 L468.5,429.0 L471.5,431.5 L474.5,433.2 L477.5,429.7 L480.5,427.2 L483.5,434.7 L486.5,435.2 L489.5,433.2 L492.5,432.0 L495.3,441.5 L498.3,430.2 L501.3,431.5 L504.3,412.7 L507.3,406.4 L510.3,398.9 L513.3,396.4 L516.3,402.6 L519.3,401.4 L522.4,405.7 L525.4,401.4 L527.9,394.4 L530.9,393.9 L533.9,389.6 L536.9,393.1 L539.9,389.6 L542.9,385.1 L545.9,391.4 L548.9,390.1 L551.9,393.9 L554.9,398.9 L557.9,403.9 L561.0,396.4 L564.0,395.1 L567.0,387.6 L570.0,386.4 L573.0,382.6 L576.0,382.1 L579.0,393.9 L582.0,390.6 L585.0,387.1 L587.5,386.4 L590.0,376.3 L593.0,368.1 L596.0,363.8 L599.5,378.8 L602.0,378.1 L605.0,375.1 L608.0,380.1 L611.1,377.1 L614.1,373.8 L617.1,383.1 L620.1,378.1 L623.1,383.8 L626.1,383.8 L629.1,372.6 L632.1,362.0 L635.1,363.8 L638.1,358.8 L641.1,354.5 L644.1,366.3 L647.1,376.3 L650.2,387.6 L653.2,400.1 L656.2,395.9 L658.7,395.9 L661.7,390.1 L664.7,384.6 L667.7,387.1 L670.2,389.6 L673.2,397.6 L676.7,402.1 L679.7,396.4 L682.7,395.9 L685.7,382.6 L688.7,375.1 L691.8,377.6 L694.8,384.6 L697.8,380.6 L700.3,391.4 L703.3,388.9 L706.3,387.1 L709.3,396.4 L711.8,398.9 L715.3,412.2 L718.3,423.4 L721.3,418.2 L724.3,413.4 L727.3,417.7 L727.3,445.2 Z" fill="url(#os)" clip-path="url(#cos)"/>
<path d="M219.4,388.1 C220.3,389.1 222.9,391.9 225.1,393.9 C227.4,395.9 230.2,398.0 232.7,400.1 C235.2,402.2 237.7,404.7 240.2,406.4 C242.7,408.1 245.2,409.3 247.7,410.2 C250.2,411.0 252.7,411.0 255.2,411.4 C257.7,411.8 260.2,412.2 262.7,412.7 C265.2,413.2 267.7,414.3 270.3,414.4 C272.8,414.5 275.3,413.5 277.8,413.2 C280.3,412.8 282.8,412.3 285.3,412.2 C287.8,412.0 290.3,412.5 292.8,412.2 C295.3,411.8 297.8,410.8 300.3,410.2 C302.8,409.5 305.3,408.7 307.8,408.2 C310.4,407.7 312.9,407.2 315.4,407.2 C317.9,407.1 320.4,407.5 322.9,407.7 C325.4,407.8 327.9,408.0 330.4,408.2 C332.9,408.3 335.6,408.4 337.9,408.4 C340.2,408.5 342.1,408.7 344.2,408.4 C346.3,408.1 348.2,406.6 350.5,406.4 C352.7,406.2 355.5,407.0 358.0,407.2 C360.5,407.3 363.4,407.2 365.5,407.2 C367.6,407.2 368.8,406.6 370.5,407.2 C372.2,407.7 373.9,409.7 375.5,410.7 C377.1,411.7 378.0,411.7 380.0,413.2 C382.0,414.7 385.0,417.5 387.5,419.7 C390.0,421.9 392.5,424.3 395.0,426.5 C397.5,428.6 400.1,430.8 402.6,432.7 C405.1,434.7 407.6,436.6 410.1,438.2 C412.6,439.8 415.1,441.2 417.6,442.2 C420.1,443.3 423.0,444.2 425.1,444.7 C427.2,445.3 428.5,445.5 430.1,445.8 C431.8,446.0 433.0,446.3 435.1,446.0 C437.2,445.7 440.2,445.4 442.7,444.0 C445.2,442.6 447.7,439.8 450.2,437.7 C452.7,435.6 455.2,433.5 457.7,431.5 C460.2,429.5 462.7,427.0 465.2,425.7 C467.7,424.4 470.2,424.4 472.7,423.9 C475.2,423.5 477.7,423.1 480.3,423.2 C482.8,423.3 485.3,423.7 487.8,424.7 C490.3,425.7 492.8,427.9 495.3,429.0 C497.8,430.0 500.3,431.4 502.8,431.0 C505.3,430.5 507.8,428.0 510.3,426.5 C512.8,424.9 515.3,423.0 517.8,421.4 C520.4,419.9 522.9,419.1 525.4,417.2 C527.9,415.3 530.4,412.8 532.9,410.2 C535.4,407.5 537.9,403.7 540.4,401.4 C542.9,399.1 545.4,397.4 547.9,396.4 C550.4,395.3 552.9,395.5 555.4,395.1 C557.9,394.7 560.5,394.4 563.0,393.9 C565.5,393.4 568.0,392.5 570.5,392.1 C573.0,391.7 575.5,391.6 578.0,391.4 C580.5,391.2 583.5,391.1 585.5,390.9 C587.5,390.7 588.0,391.1 590.0,390.1 C592.0,389.2 595.0,386.6 597.5,385.1 C600.0,383.6 602.1,382.4 605.0,381.3 C608.0,380.3 611.7,379.5 615.1,378.8 C618.4,378.1 621.7,377.6 625.1,377.1 C628.4,376.5 632.2,376.2 635.1,375.6 C638.0,374.9 640.3,373.4 642.6,373.1 C644.9,372.8 646.8,373.2 648.9,373.8 C651.0,374.5 652.9,376.2 655.2,377.1 C657.5,377.9 660.2,378.1 662.7,378.8 C665.2,379.5 667.7,379.9 670.2,381.3 C672.7,382.8 675.4,385.9 677.7,387.6 C680.0,389.3 681.9,390.8 684.0,391.4 C686.1,391.9 688.0,391.2 690.3,390.9 C692.5,390.6 695.3,390.1 697.8,389.6 C700.3,389.2 702.8,388.0 705.3,388.1 C707.8,388.2 710.3,389.3 712.8,390.1 C715.3,390.9 717.9,391.9 720.3,393.1 C722.7,394.4 726.2,396.9 727.3,397.6" fill="none" stroke="#f6e68a" stroke-width="1.3" stroke-linecap="round" stroke-linejoin="round"/>
<path d="M180.5,359.5 L183.3,376.3 L186.3,376.3 L189.0,374.3 L192.1,387.6 L195.1,386.4 L198.1,386.9 L200.8,382.1 L203.8,390.1 L206.8,392.1 L210.1,403.9 L212.6,397.6 L215.9,408.9 L218.9,405.9 L221.9,403.4 L225.1,405.2 L228.1,403.1 L231.2,409.7 L233.9,413.2 L236.9,421.4 L240.2,419.7 L243.2,418.7 L246.4,417.7 L249.4,415.2 L254.5,403.4 L257.7,407.7 L260.7,409.7 L264.0,415.2 L266.7,422.7 L269.7,421.9 L272.8,407.7 L275.8,403.1 L278.5,414.7 L281.5,410.2 L284.5,409.4 L287.3,413.9 L290.3,408.2 L293.3,413.9 L296.3,407.7 L299.3,392.6 L302.3,393.9 L305.3,412.2 L308.3,415.9 L311.4,405.2 L314.4,404.6 L317.4,406.4 L320.4,411.4 L323.4,415.9 L326.4,413.2 L329.4,415.2 L332.4,413.2 L335.4,411.9 L338.4,400.6 L341.4,398.4 L344.4,398.9 L346.9,402.1 L349.9,396.4 L353.0,406.4 L356.0,413.9 L359.0,413.9 L362.0,411.4 L365.0,408.4 L368.0,409.7 L371.0,422.7 L374.0,436.5 L377.0,435.2 L380.0,437.2 L383.0,427.0 L386.0,431.5 L389.0,432.7 L391.8,426.5 L394.5,437.7 L397.5,441.5 L400.6,440.7 L403.6,446.5 L406.6,447.8 L409.6,448.3 L412.6,450.8 L415.6,453.5 L418.3,450.8 L421.4,452.8 L424.4,455.3 L427.4,441.5 L430.1,435.7 L433.1,441.5 L436.1,439.0 L439.1,430.2 L442.2,420.2 L444.7,427.7 L447.7,416.4 L450.2,417.7 L453.2,413.2 L456.4,410.2 L459.4,413.9 L462.5,425.2 L465.5,423.9 L468.5,429.0 L471.5,431.5 L474.5,433.2 L477.5,429.7 L480.5,427.2 L483.5,434.7 L486.5,435.2 L489.5,433.2 L492.5,432.0 L495.3,441.5 L498.3,430.2 L501.3,431.5 L504.3,412.7 L507.3,406.4 L510.3,398.9 L513.3,396.4 L516.3,402.6 L519.3,401.4 L522.4,405.7 L525.4,401.4 L527.9,394.4 L530.9,393.9 L533.9,389.6 L536.9,393.1 L539.9,389.6 L542.9,385.1 L545.9,391.4 L548.9,390.1 L551.9,393.9 L554.9,398.9 L557.9,403.9 L561.0,396.4 L564.0,395.1 L567.0,387.6 L570.0,386.4 L573.0,382.6 L576.0,382.1 L579.0,393.9 L582.0,390.6 L585.0,387.1 L587.5,386.4 L590.0,376.3 L593.0,368.1 L596.0,363.8 L599.5,378.8 L602.0,378.1 L605.0,375.1 L608.0,380.1 L611.1,377.1 L614.1,373.8 L617.1,383.1 L620.1,378.1 L623.1,383.8 L626.1,383.8 L629.1,372.6 L632.1,362.0 L635.1,363.8 L638.1,358.8 L641.1,354.5 L644.1,366.3 L647.1,376.3 L650.2,387.6 L653.2,400.1 L656.2,395.9 L658.7,395.9 L661.7,390.1 L664.7,384.6 L667.7,387.1 L670.2,389.6 L673.2,397.6 L676.7,402.1 L679.7,396.4 L682.7,395.9 L685.7,382.6 L688.7,375.1 L691.8,377.6 L694.8,384.6 L697.8,380.6 L700.3,391.4 L703.3,388.9 L706.3,387.1 L709.3,396.4 L711.8,398.9 L715.3,412.2 L718.3,423.4 L721.3,418.2 L724.3,413.4 L727.3,417.7" fill="none" stroke="#7e57c2" stroke-width="2.0" stroke-linejoin="round" stroke-linecap="round"/>
<g stroke="#e9eaef" stroke-width="0.8" fill="none">
<rect x="3.5" y="14.8" width="847.7" height="464.7"/>
<line x1="809.3" y1="14.8" x2="809.3" y2="479.5"/>
<line x1="3.5" y1="462.3" x2="851.2" y2="462.3"/>
</g>
<text filter="url(#gx)" x="4" y="9.5" font-size="7.9" fill="#1c202b" text-anchor="start" font-weight="normal" stroke="#1c202b" stroke-width="0.1" textLength="226" lengthAdjust="spacingAndGlyphs">ranadagger published on TradingView.com, Jun 23, 2025 15:43 UTC</text>
<text filter="url(#gx)" x="8.8" y="26.9" font-size="7.8" fill="#1c202b" text-anchor="start" font-weight="normal" stroke="#1c202b" stroke-width="0.1" textLength="118.2" lengthAdjust="spacingAndGlyphs">Hyperliquid / Tether · 1D · KUCOIN</text>
<text filter="url(#gx)" x="131.6" y="26.9" font-size="7.8" fill="#1c202b" text-anchor="start" font-weight="normal" stroke="#1c202b" stroke-width="0.1" textLength="5.2" lengthAdjust="spacingAndGlyphs">O</text>
<text filter="url(#gx)" x="136.9" y="26.9" font-size="7.8" fill="#ef5350" text-anchor="start" font-weight="normal" stroke="#ef5350" stroke-width="0.1" textLength="22.2" lengthAdjust="spacingAndGlyphs">35.799</text>
<text filter="url(#gx)" x="163.8" y="26.9" font-size="7.8" fill="#1c202b" text-anchor="start" font-weight="normal" stroke="#1c202b" stroke-width="0.1" textLength="5" lengthAdjust="spacingAndGlyphs">H</text>
<text filter="url(#gx)" x="169" y="26.9" font-size="7.8" fill="#ef5350" text-anchor="start" font-weight="normal" stroke="#ef5350" stroke-width="0.1" textLength="22.2" lengthAdjust="spacingAndGlyphs">36.684</text>
<text filter="url(#gx)" x="196" y="26.9" font-size="7.8" fill="#1c202b" text-anchor="start" font-weight="normal" stroke="#1c202b" stroke-width="0.1" textLength="3.8" lengthAdjust="spacingAndGlyphs">L</text>
<text filter="url(#gx)" x="200" y="26.9" font-size="7.8" fill="#ef5350" text-anchor="start" font-weight="normal" stroke="#ef5350" stroke-width="0.1" textLength="22.2" lengthAdjust="spacingAndGlyphs">34.559</text>
<text filter="url(#gx)" x="226.6" y="26.9" font-size="7.8" fill="#1c202b" text-anchor="start" font-weight="normal" stroke="#1c202b" stroke-width="0.1" textLength="4.6" lengthAdjust="spacingAndGlyphs">C</text>
<text filter="url(#gx)" x="231.3" y="26.9" font-size="7.8" fill="#ef5350" text-anchor="start" font-weight="normal" stroke="#ef5350" stroke-width="0.1" textLength="22.2" lengthAdjust="spacingAndGlyphs">34.797</text>
<text filter="url(#gx)" x="259" y="26.9" font-size="7.8" fill="#ef5350" text-anchor="start" font-weight="normal" stroke="#ef5350" stroke-width="0.1" textLength="52" lengthAdjust="spacingAndGlyphs">−1.001 (−2.80%)</text>
<text filter="url(#gx)" x="8.8" y="37.8" font-size="7.8" fill="#1c202b" text-anchor="start" font-weight="normal" stroke="#1c202b" stroke-width="0.1" textLength="51.5" lengthAdjust="spacingAndGlyphs">EMA (20, close)</text>
<text filter="url(#gx)" x="65.2" y="37.8" font-size="7.8" fill="#2962ff" text-anchor="start" font-weight="normal" stroke="#2962ff" stroke-width="0.1" textLength="22.2" lengthAdjust="spacingAndGlyphs">36.745</text>
<text filter="url(#gx)" x="8.8" y="48.6" font-size="7.8" fill="#1c202b" text-anchor="start" font-weight="normal" stroke="#1c202b" stroke-width="0.1" textLength="51.5" lengthAdjust="spacingAndGlyphs">SMA (50, close)</text>
<text filter="url(#gx)" x="65.2" y="48.6" font-size="7.8" fill="#f23645" text-anchor="start" font-weight="normal" stroke="#f23645" stroke-width="0.1" textLength="22.2" lengthAdjust="spacingAndGlyphs">32.630</text>
<text filter="url(#gx)" x="8.8" y="359.9" font-size="7.8" fill="#1c202b" text-anchor="start" font-weight="normal" stroke="#1c202b" stroke-width="0.1" textLength="47.4" lengthAdjust="spacingAndGlyphs">RSI (14, close)</text>
<text filter="url(#gx)" x="61.8" y="359.9" font-size="7.8" fill="#7e57c2" text-anchor="start" font-weight="normal" stroke="#7e57c2" stroke-width="0.1" textLength="17.8" lengthAdjust="spacingAndGlyphs">47.01</text>
<text filter="url(#gx)" x="84.7" y="359.9" font-size="7.8" fill="#fbd835" text-anchor="start" font-weight="normal" stroke="#fbd835" stroke-width="0.1" textLength="18" lengthAdjust="spacingAndGlyphs">59.19</text>
<text filter="url(#gx)" x="107.7" y="359.9" font-size="7.3" fill="#1c202b" text-anchor="start" font-weight="normal" stroke="#1c202b" stroke-width="0.1" textLength="4.7" lengthAdjust="spacingAndGlyphs">Ø</text>
<text filter="url(#gx)" x="117.6" y="359.9" font-size="7.3" fill="#1c202b" text-anchor="start" font-weight="normal" stroke="#1c202b" stroke-width="0.1" textLength="4.7" lengthAdjust="spacingAndGlyphs">Ø</text>
<text filter="url(#gx)" x="127.0" y="359.9" font-size="7.3" fill="#1c202b" text-anchor="start" font-weight="normal" stroke="#1c202b" stroke-width="0.1" textLength="4.7" lengthAdjust="spacingAndGlyphs">Ø</text>
<text filter="url(#gx)" x="136.3" y="359.9" font-size="7.3" fill="#1c202b" text-anchor="start" font-weight="normal" stroke="#1c202b" stroke-width="0.1" textLength="4.7" lengthAdjust="spacingAndGlyphs">Ø</text>
<text filter="url(#gx)" x="814.6" y="40.7" font-size="7.8" fill="#1c202b" text-anchor="start" font-weight="normal" stroke="#1c202b" stroke-width="0.1" textLength="22.2" lengthAdjust="spacingAndGlyphs">45.000</text>
<text filter="url(#gx)" x="814.6" y="61.2" font-size="7.8" fill="#1c202b" text-anchor="start" font-weight="normal" stroke="#1c202b" stroke-width="0.1" textLength="22.2" lengthAdjust="spacingAndGlyphs">42.500</text>
<text filter="url(#gx)" x="814.6" y="81.6" font-size="7.8" fill="#1c202b" text-anchor="start" font-weight="normal" stroke="#1c202b" stroke-width="0.1" textLength="22.2" lengthAdjust="spacingAndGlyphs">40.000</text>
<text filter="url(#gx)" x="814.6" y="102.1" font-size="7.8" fill="#1c202b" text-anchor="start" font-weight="normal" stroke="#1c202b" stroke-width="0.1" textLength="22.2" lengthAdjust="spacingAndGlyphs">37.500</text>
<text filter="url(#gx)" x="814.6" y="122.5" font-size="7.8" fill="#1c202b" text-anchor="start" font-weight="normal" stroke="#1c202b" stroke-width="0.1" textLength="22.2" lengthAdjust="spacingAndGlyphs">35.000</text>
<text filter="url(#gx)" x="814.6" y="143.0" font-size="7.8" fill="#1c202b" text-anchor="start" font-weight="normal" stroke="#1c202b" stroke-width="0.1" textLength="22.2" lengthAdjust="spacingAndGlyphs">32.500</text>
<text filter="url(#gx)" x="814.6" y="163.4" font-size="7.8" fill="#1c202b" text-anchor="start" font-weight="normal" stroke="#1c202b" stroke-width="0.1" textLength="22.2" lengthAdjust="spacingAndGlyphs">30.000</text>
<text filter="url(#gx)" x="814.6" y="183.9" font-size="7.8" fill="#1c202b" text-anchor="start" font-weight="normal" stroke="#1c202b" stroke-width="0.1" textLength="22.2" lengthAdjust="spacingAndGlyphs">27.500</text>
<text filter="url(#gx)" x="814.6" y="204.3" font-size="7.8" fill="#1c202b" text-anchor="start" font-weight="normal" stroke="#1c202b" stroke-width="0.1" textLength="22.2" lengthAdjust="spacingAndGlyphs">25.000</text>
<text filter="url(#gx)" x="814.6" y="224.8" font-size="7.8" fill="#1c202b" text-anchor="start" font-weight="normal" stroke="#1c202b" stroke-width="0.1" textLength="22.2" lengthAdjust="spacingAndGlyphs">22.500</text>
<text filter="url(#gx)" x="814.6" y="245.2" font-size="7.8" fill="#1c202b" text-anchor="start" font-weight="normal" stroke="#1c202b" stroke-width="0.1" textLength="22.2" lengthAdjust="spacingAndGlyphs">20.000</text>
<text filter="url(#gx)" x="814.6" y="265.6" font-size="7.8" fill="#1c202b" text-anchor="start" font-weight="normal" stroke="#1c202b" stroke-width="0.1" textLength="22.2" lengthAdjust="spacingAndGlyphs">17.500</text>
<text filter="url(#gx)" x="814.6" y="286.1" font-size="7.8" fill="#1c202b" text-anchor="start" font-weight="normal" stroke="#1c202b" stroke-width="0.1" textLength="22.2" lengthAdjust="spacingAndGlyphs">15.000</text>
<text filter="url(#gx)" x="814.6" y="306.6" font-size="7.8" fill="#1c202b" text-anchor="start" font-weight="normal" stroke="#1c202b" stroke-width="0.1" textLength="22.2" lengthAdjust="spacingAndGlyphs">12.500</text>
<text filter="url(#gx)" x="814.6" y="327.0" font-size="7.8" fill="#1c202b" text-anchor="start" font-weight="normal" stroke="#1c202b" stroke-width="0.1" textLength="22.2" lengthAdjust="spacingAndGlyphs">10.000</text>
<text filter="url(#gx)" x="814.6" y="347.5" font-size="7.8" fill="#1c202b" text-anchor="start" font-weight="normal" stroke="#1c202b" stroke-width="0.1" textLength="18.5" lengthAdjust="spacingAndGlyphs">7.500</text>
<text filter="url(#gx)" x="814.6" y="366.2" font-size="7.8" fill="#1c202b" text-anchor="start" font-weight="normal" stroke="#1c202b" stroke-width="0.1" textLength="18.6" lengthAdjust="spacingAndGlyphs">80.00</text>
<text filter="url(#gx)" x="814.6" y="432.1" font-size="7.8" fill="#1c202b" text-anchor="start" font-weight="normal" stroke="#1c202b" stroke-width="0.1" textLength="18.6" lengthAdjust="spacingAndGlyphs">40.00</text>
<rect x="3.5" y="346.9" width="847.7" height="2.4" fill="#eff1f7"/>
<rect x="810.2" y="16" width="40" height="20.4" fill="#ffffff"/>
<rect x="811.4" y="17.6" width="37.4" height="16" rx="2" ry="2" fill="#ffffff" stroke="#e9eaef" stroke-width="0.8"/>
<text filter="url(#gx)" x="817" y="28.7" font-size="7.8" fill="#1c202b" text-anchor="start" font-weight="normal" stroke="#1c202b" stroke-width="0.1" textLength="16.8" lengthAdjust="spacingAndGlyphs">USDT</text>
<text filter="url(#gx)" x="213.5" y="474" font-size="7.8" fill="#1c202b" text-anchor="middle" font-weight="bold" stroke="#1c202b" stroke-width="0.1">2025</text>
<text filter="url(#gx)" x="305.9" y="474" font-size="7.8" fill="#1c202b" text-anchor="middle" font-weight="normal" stroke="#1c202b" stroke-width="0.1">Feb</text>
<text filter="url(#gx)" x="389.0" y="474" font-size="7.8" fill="#1c202b" text-anchor="middle" font-weight="normal" stroke="#1c202b" stroke-width="0.1">Mar</text>
<text filter="url(#gx)" x="481.8" y="474" font-size="7.8" fill="#1c202b" text-anchor="middle" font-weight="normal" stroke="#1c202b" stroke-width="0.1">Apr</text>
<text filter="url(#gx)" x="569.8" y="474" font-size="7.8" fill="#1c202b" text-anchor="middle" font-weight="normal" stroke="#1c202b" stroke-width="0.1">May</text>
<text filter="url(#gx)" x="662.7" y="474" font-size="7.8" fill="#1c202b" text-anchor="middle" font-weight="normal" stroke="#1c202b" stroke-width="0.1">Jun</text>
<text filter="url(#gx)" x="751.6" y="474" font-size="7.8" fill="#1c202b" text-anchor="middle" font-weight="normal" stroke="#1c202b" stroke-width="0.1">Jul</text>
<rect x="789.2" y="100.4" width="19.6" height="10.6" rx="1" ry="1" fill="#2962ff"/>
<rect x="809.6" y="100.4" width="30.6" height="10.6" rx="1" ry="1" fill="#2962ff"/>
<text filter="url(#gx)" x="792.7" y="108.4" font-size="7.8" fill="#fff" text-anchor="start" font-weight="normal" stroke="#fff" stroke-width="0.1" textLength="13.5" lengthAdjust="spacingAndGlyphs">EMA</text>
<text filter="url(#gx)" x="814.6" y="108.4" font-size="7.8" fill="#fff" text-anchor="start" font-weight="normal" stroke="#fff" stroke-width="0.1" textLength="22.2" lengthAdjust="spacingAndGlyphs">36.745</text>
<rect x="768.4" y="116.8" width="40.4" height="10.8" rx="1" fill="#ef5350"/>
<rect x="809.6" y="116.8" width="39.8" height="28" rx="1" fill="#ef5350"/>
<text filter="url(#gx)" x="771.4" y="124.8" font-size="7.8" fill="#fff" text-anchor="start" font-weight="normal" stroke="#fff" stroke-width="0.1" textLength="34.8" lengthAdjust="spacingAndGlyphs">HYPEUSDT</text>
<text filter="url(#gx)" x="814.6" y="124.8" font-size="7.8" fill="#fff" text-anchor="start" font-weight="normal" stroke="#fff" stroke-width="0.1" textLength="22.2" lengthAdjust="spacingAndGlyphs">34.797</text>
<text filter="url(#gx)" x="814.6" y="133.6" font-size="7.8" fill="#fff" text-anchor="start" font-weight="normal" stroke="#fff" stroke-width="0.1" textLength="30.6" lengthAdjust="spacingAndGlyphs">+247.97%</text>
<text filter="url(#gx)" x="814.6" y="142.4" font-size="7.8" fill="#fff" text-anchor="start" font-weight="normal" stroke="#fff" stroke-width="0.1" textLength="28.6" lengthAdjust="spacingAndGlyphs" fill-opacity="0.75">08:16:26</text>
<rect x="777.4" y="145.4" width="31.4" height="10.6" rx="1" ry="1" fill="#f23645"/>
<rect x="809.6" y="145.4" width="30.6" height="10.6" rx="1" ry="1" fill="#f23645"/>
<text filter="url(#gx)" x="780.2" y="153.4" font-size="7.8" fill="#fff" text-anchor="start" font-weight="normal" stroke="#fff" stroke-width="0.1" textLength="26" lengthAdjust="spacingAndGlyphs">SMA:MA</text>
<text filter="url(#gx)" x="814.6" y="153.4" font-size="7.8" fill="#fff" text-anchor="start" font-weight="normal" stroke="#fff" stroke-width="0.1" textLength="22.2" lengthAdjust="spacingAndGlyphs">32.630</text>
<rect x="809.3" y="168.5" width="30.9" height="10.6" rx="1" ry="1" fill="#0a0aff"/>
<text filter="url(#gx)" x="814.6" y="176.5" font-size="7.8" fill="#fff" text-anchor="start" font-weight="normal" stroke="#fff" stroke-width="0.1" textLength="22.2" lengthAdjust="spacingAndGlyphs">28.500</text>
<rect x="759" y="392.4" width="49.8" height="10.6" rx="1" ry="1" fill="#ffeb3b"/>
<rect x="809.6" y="392.4" width="27.0" height="10.6" rx="1" ry="1" fill="#ffeb3b"/>
<text filter="url(#gx)" x="761.8" y="400.4" font-size="7.8" fill="#1c202b" text-anchor="start" font-weight="normal" stroke="#1c202b" stroke-width="0.1" textLength="44.4" lengthAdjust="spacingAndGlyphs">RSI-based MA</text>
<text filter="url(#gx)" x="814.6" y="400.4" font-size="7.8" fill="#1c202b" text-anchor="start" font-weight="normal" stroke="#1c202b" stroke-width="0.1" textLength="18.6" lengthAdjust="spacingAndGlyphs">59.19</text>
<rect x="793" y="412.8" width="15.8" height="10.6" rx="1" ry="1" fill="#7e57c2"/>
<rect x="809.6" y="412.8" width="27.0" height="10.6" rx="1" ry="1" fill="#7e57c2"/>
<text filter="url(#gx)" x="796.3" y="420.8" font-size="7.8" fill="#fff" text-anchor="start" font-weight="normal" stroke="#fff" stroke-width="0.1" textLength="9.9" lengthAdjust="spacingAndGlyphs">RSI</text>
<text filter="url(#gx)" x="814.6" y="420.8" font-size="7.8" fill="#fff" text-anchor="start" font-weight="normal" stroke="#fff" stroke-width="0.1" textLength="18.6" lengthAdjust="spacingAndGlyphs">47.01</text>
<g><circle cx="727.4" cy="340" r="5.95" fill="#fff" stroke="#ab47bc" stroke-width="1.25"/><path d="M729.3,336.2 L724.7,340.9 L727.1,340.9 L725.5,344.2 L730.2,339.3 L727.7,339.3 Z" fill="#9c27b0"/><circle cx="731.7" cy="335.5" r="2.6" fill="#fff"/><circle cx="731.7" cy="335.5" r="1.8" fill="#f23645"/></g>
<g fill="#131722"><path d="M3.8,487.6 h5.2 v6 h-2.6 v-3.4 h-2.6 z"/><circle cx="10.6" cy="488.9" r="1.3"/><path d="M12.4,487.6 h3.2 l-2.6,6 h-3.1 z"/></g>
<text filter="url(#gx)" x="19" y="493.6" font-size="8.6" fill="#363a45" text-anchor="start" font-weight="normal" stroke="#363a45" stroke-width="0.1" textLength="42.8" lengthAdjust="spacingAndGlyphs">TradingView</text>
</svg></body></html>
